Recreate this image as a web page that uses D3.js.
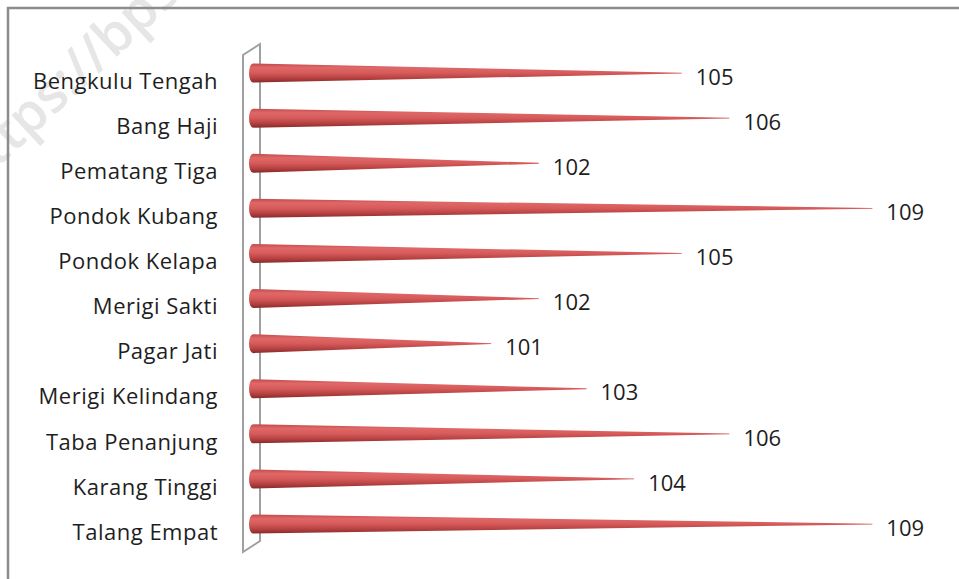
<!DOCTYPE html>
<html>
<head>
<meta charset="utf-8">
<script src="https://cdn.jsdelivr.net/npm/d3@7/dist/d3.min.js"></script>
<style>
  html, body { margin: 0; padding: 0; background: #fff; }
  svg { display: block; }
</style>
</head>
<body>
<script>
// Desa / kelurahan and their values
const categories = [
  "Bengkulu Tengah", "Bang Haji", "Pematang Tiga", "Pondok Kubang",
  "Pondok Kelapa", "Merigi Sakti", "Pagar Jati", "Merigi Kelindang",
  "Taba Penanjung", "Karang Tinggi", "Talang Empat"
];
const values = [105, 106, 102, 109, 105, 102, 101, 103, 106, 104, 109];
const axisDomain = [96, 110];

const W = 959, H = 579;
const FONT = "'Open Sans', sans-serif";
const svg = d3.select("body").append("svg").attr("width", W).attr("height", H);

const defs = svg.append("defs");
const grad = defs.append("linearGradient")
  .attr("id", "coneFill").attr("x1", 0).attr("y1", 0).attr("x2", 0).attr("y2", 1);
[[0, "#c44a4a"], [0.22, "#e06868"], [0.5, "#d65a5a"], [0.78, "#b44040"], [1, "#862a2a"]]
  .forEach(([o, c]) => grad.append("stop").attr("offset", o).attr("stop-color", c));

// faint site watermark
svg.append("text")
  .attr("transform", "translate(-28,192) rotate(-43)")
  .attr("font-family", FONT)
  .attr("font-size", 54)
  .attr("font-weight", 600)
  .attr("fill", "#e6e6e6")
  .text("https://bps.go.id");

// chart area frame
svg.append("path")
  .attr("d", `M8,${H + 5} L8,8 L${W + 5},8`)
  .attr("fill", "none").attr("stroke", "#8c8c8c").attr("stroke-width", 2.5);

const x = d3.scaleLinear().domain(axisDomain).range([253, 920]);
const y = d3.scaleBand().domain(categories).range([50.5, 546.6]).padding(0);

// side wall behind the category axis
svg.append("path")
  .attr("d", "M243,552 L243,55 L260,44 L260,541 Z")
  .attr("fill", "none").attr("stroke", "#a0a0a0").attr("stroke-width", 2);

const r = 9.5;
const rows = svg.append("g").selectAll("g").data(categories).join("g");

rows.append("path")
  .attr("d", (d, i) => {
    const cy = y(d) + y.bandwidth() / 2;
    const x0 = x(axisDomain[0]);
    const x1 = x(values[i]);
    return `M${x0},${cy - r} L${x1},${cy - 0.4} L${x1},${cy + 0.4} L${x0},${cy + r} A4,${r} 0 0 1 ${x0},${cy - r} Z`;
  })
  .attr("fill", "url(#coneFill)");

rows.append("text")
  .attr("x", (d, i) => x(values[i]) + 14)
  .attr("y", d => y(d) + y.bandwidth() / 2 + 4)
  .attr("dy", "0.35em")
  .attr("font-family", FONT)
  .attr("font-size", 22)
  .attr("fill", "#1e1e1e")
  .text((d, i) => values[i]);

// category axis labels
svg.append("g").selectAll("text").data(categories).join("text")
  .attr("x", 218)
  .attr("y", d => y(d) + y.bandwidth() / 2 + 8)
  .attr("dy", "0.35em")
  .attr("text-anchor", "end")
  .attr("font-family", FONT)
  .attr("font-size", 22)
  .attr("letter-spacing", 0.5)
  .attr("fill", "#1e1e1e")
  .text(d => d);
</script>
</body>
</html>
